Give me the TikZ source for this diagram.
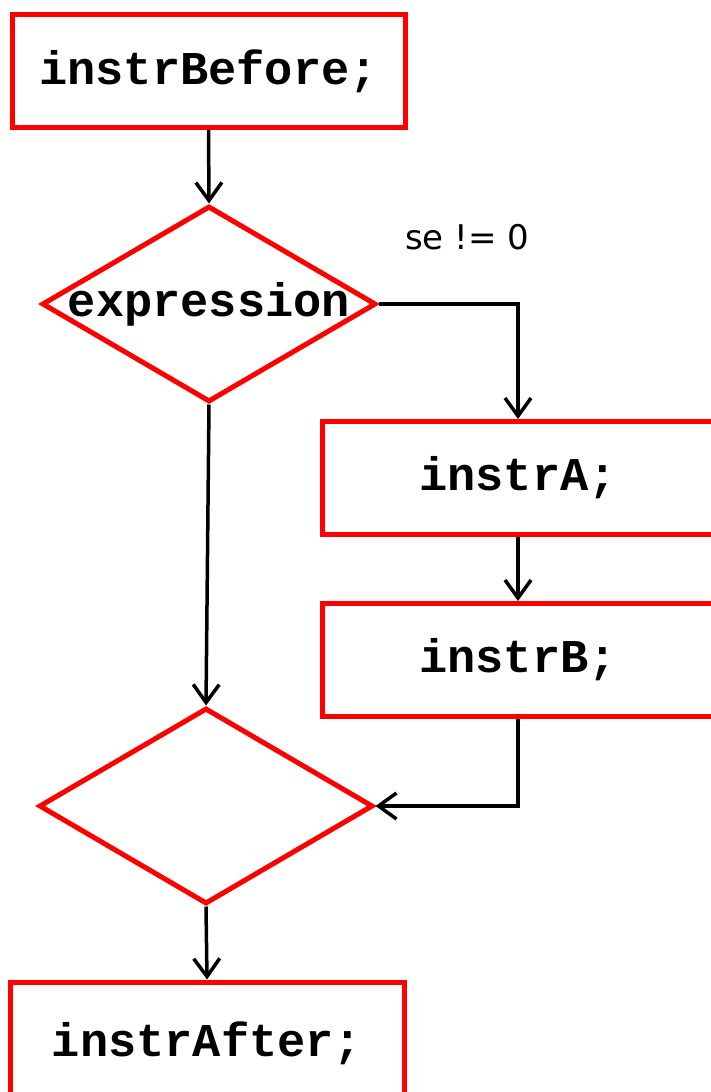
\documentclass[tikz,border=0pt]{standalone}
\usepackage{fontspec}
\setmonofont{Liberation Mono}
\newfontfamily\condfont{DejaVu Sans}
\usetikzlibrary{shapes.geometric,arrows.meta}

\begin{document}
\begin{tikzpicture}[x=1pt,y=-1pt,
  instr/.style={draw=red, line width=5pt, rectangle, minimum width=393pt,
    minimum height=113pt, font=\fontsize{47}{50}\selectfont\ttfamily\bfseries},
  decision/.style={draw=red, line width=5pt, diamond, aspect=1.71,
    minimum width=334pt, minimum height=196pt, inner sep=0pt},
  codetext/.style={font=\fontsize{47}{50}\selectfont\ttfamily\bfseries},
  flow/.style={line width=3.5pt, -{Straight Barb[length=18pt,width=26pt]}}]
\useasboundingbox (0,0) rectangle (711,1092);

% blocks
\node[instr] (before) at (208.5,71) {instrBefore;};
\node[decision, label={[codetext]center:expression}] (test) at (209,304) {};
\node[instr, minimum width=392pt] (instrA) at (518,478) {instrA;};
\node[instr, minimum width=392pt] (instrB) at (518,660) {instrB;};
\node[decision] (join) at (206,806) {};
\node[instr, minimum width=394pt, minimum height=122pt] (after) at (207,1043) {instrAfter;};

\node[font=\fontsize{34}{40}\selectfont\condfont] (truelabel) at (467,237) {se != 0};

% connectors
\draw[flow] (before.south) -- (test.north);
\draw[flow] (test.east) -| (instrA.north);
\draw[flow] (instrA.south) -- (instrB.north);
\draw[flow] (instrB.south) |- (join.east);
\draw[flow] (test.south) -- (join.north);
\draw[flow] (join.south) -- (after.north);

\end{tikzpicture}
\end{document}
